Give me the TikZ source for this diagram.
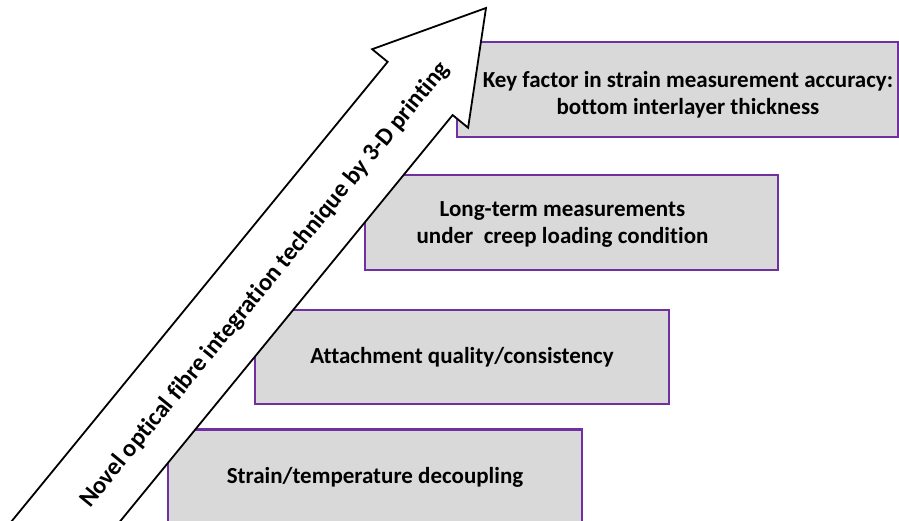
\documentclass[tikz,border=0pt]{standalone}
\usepackage{fontspec}
\setmainfont{Carlito}[Ligatures=NoCommon]
\definecolor{boxfill}{RGB}{217,217,217}
\definecolor{boxline}{RGB}{112,48,160}
\tikzset{
  stage/.style={draw=boxline, fill=boxfill, line width=2.2pt, rectangle,
    minimum height=95pt, inner xsep=0pt, align=center, font=\fontsize{23}{27}\selectfont\bfseries},
  bigarrow/.style={draw=black, fill=white, line width=1.8pt, line join=miter},
}
\begin{document}
\begin{tikzpicture}[x=1pt,y=1pt]
			\useasboundingbox (0,0) rectangle (899,521);
			\clip (0,0) rectangle (899,521);
			% Stufen zeichnen
			\node[stage, minimum width=414pt] (decoupling) at (375,44) {Strain/temperature decoupling};
			\node[stage, minimum width=414pt, minimum height=94pt] (attachment) at (462,164) {Attachment quality/consistency};
			\node[stage, minimum width=413pt] (creep) at (571.5,298.5)
				{\raisebox{-2pt}[\height][\depth]{\begin{tabular}{@{}c@{}}Long-term measurements\\under\ \ creep loading condition\end{tabular}}\hspace*{18pt}};
			\node[stage, minimum width=441pt] (keyfactor) at (677.5,431.5)
				{\hspace*{21pt}\raisebox{-6pt}[\height][\depth]{\begin{tabular}{@{}c@{}}Key factor in strain measurement accuracy:\\bottom interlayer thickness\end{tabular}}};
			% Pfeil zeichnen
			\begin{scope}[shift={(486,513)}, rotate=50.7]
				\draw[bigarrow] (0,0) -- (-104,62) -- (-104,42) -- (-900,42)
					-- (-900,-42) -- (-104,-42) -- (-104,-62) -- cycle;
			\end{scope}
			% Pfeil beschriften
			\node[rotate=50.7, font=\fontsize{24.5}{29}\selectfont\bfseries] (technique) at (265,236)
				{Novel optical fibre integration technique by 3-D printing};
		\end{tikzpicture}
\end{document}
